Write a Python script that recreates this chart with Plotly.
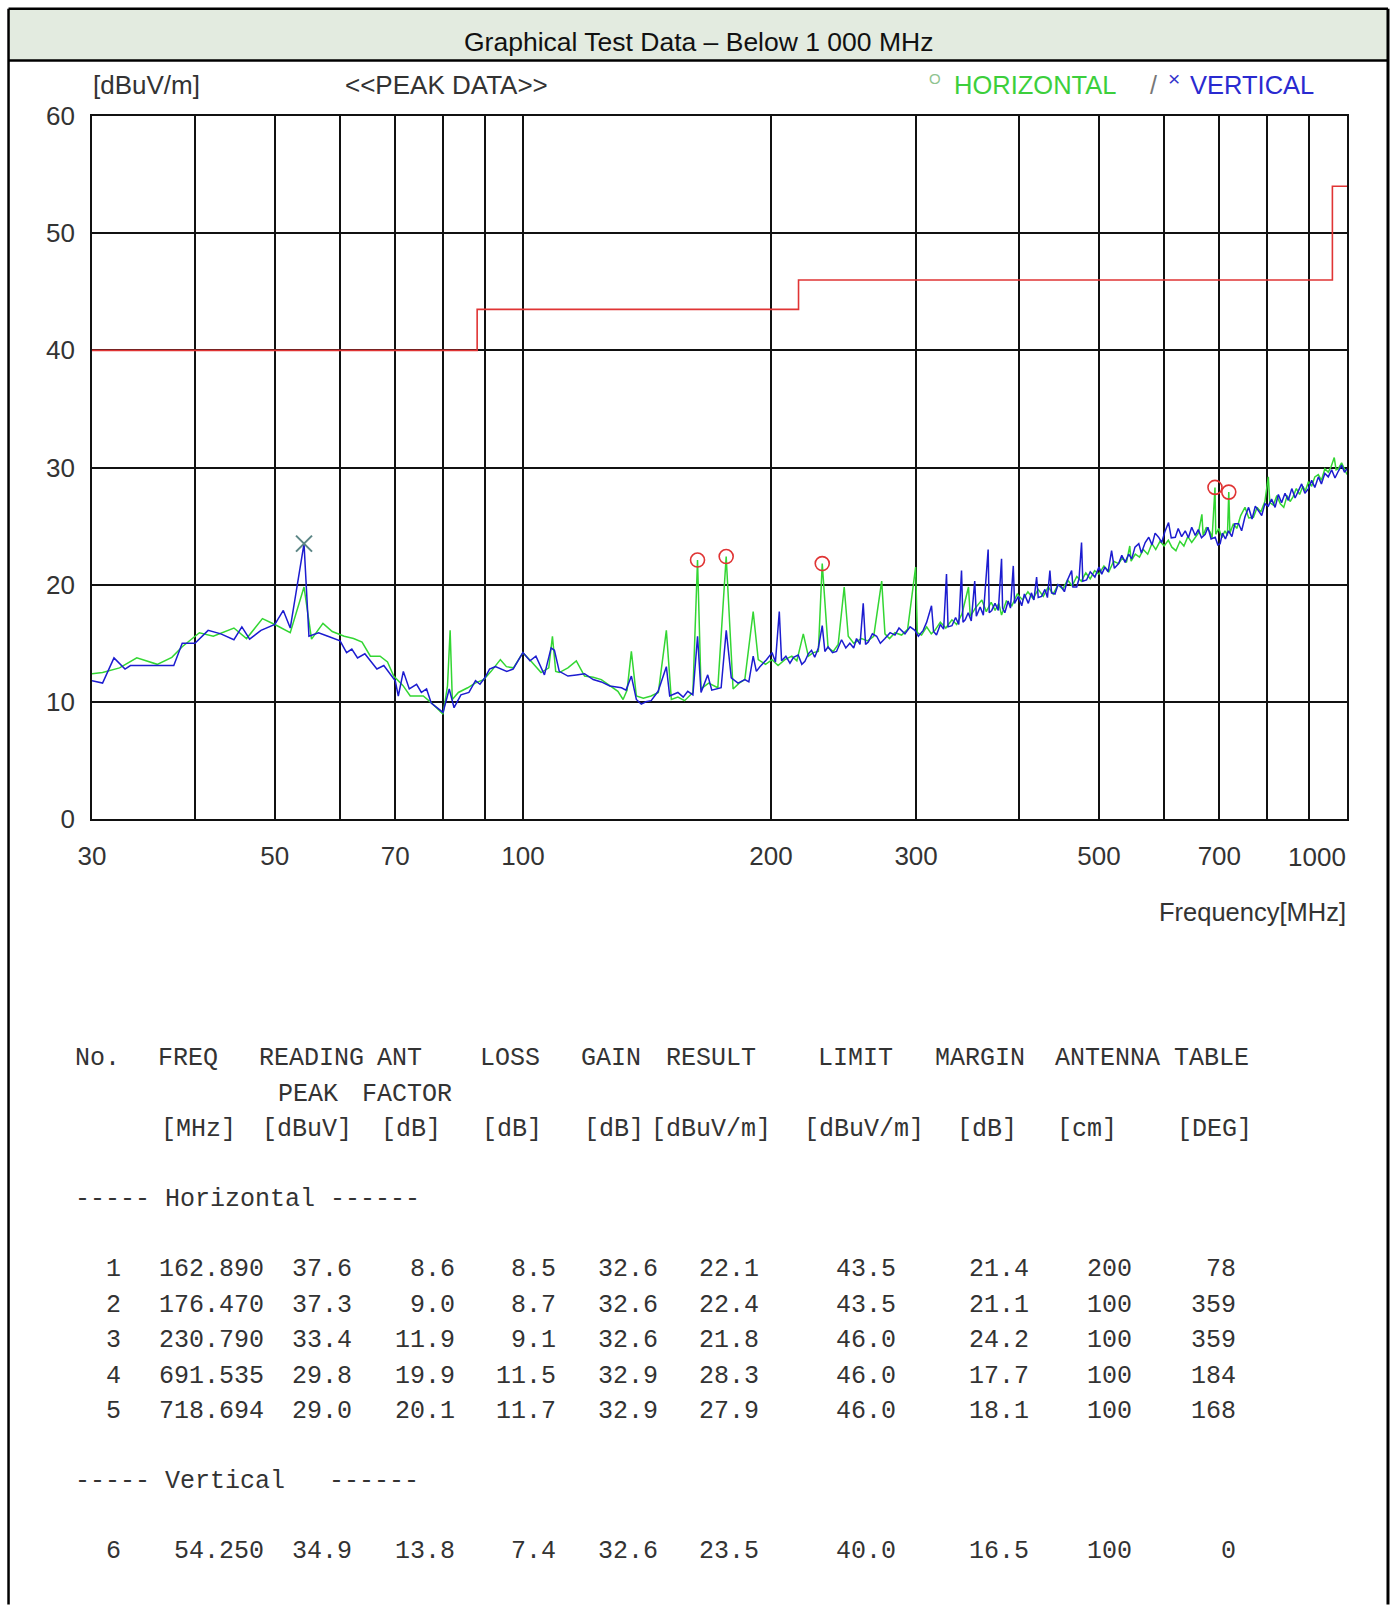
import math
import plotly.graph_objects as go

# ---------------- data ----------------
# Vertical polarisation (blue) trace
v_freq = [30.0, 30.9, 31.9, 32.9, 33.4, 35.5, 37.7, 38.6, 40.0, 41.5, 43.0, 44.6, 45.6, 46.6, 48.1,
          50.0, 51.2, 52.2, 54.25, 55.0, 56.5, 58.0, 60.0, 61.1, 62.0, 63.0, 64.3, 66.5, 67.8, 70.0,
          70.6, 71.6, 72.8, 74.3, 75.3, 76.4, 77.4, 80.0, 81.4, 82.5, 84.1, 86.0, 87.6, 88.7, 90.0,
          91.1, 92.6, 95.6, 97.3, 100.0, 102.0, 103.7, 106.2, 108.2, 109.2, 110.7, 113.4, 116.1, 118.8,
          121.7, 124.5, 127.5, 131.7, 133.4, 135.4, 137.3, 139.2, 141.0, 143.1, 145.9, 149.3, 150.7,
          154.2, 156.5, 158.5, 160.8, 162.9, 164.5, 167.6, 169.5, 171.5, 174.0, 176.5, 179.0, 182.4,
          185.9, 188.0, 190.3, 192.0, 193.9, 197.5, 200.6, 202.5, 204.7, 206.0, 208.5, 210.9, 213.0,
          215.8, 218.0, 219.9, 222.0, 224.0, 226.0, 228.3, 230.8, 232.5, 234.6, 237.5, 240.2, 243.6,
          246.5, 249.3, 252.0, 254.0, 256.5, 258.8, 260.5, 262.5, 265.5, 268.7, 271.5, 275.0, 279.0,
          282.8, 286, 290.8, 295, 299.0, 301.9, 306.0, 309, 313.2, 315, 317.6, 321, 324, 326.6, 328,
          331.6, 335, 338, 340.6, 342, 344.1, 347, 350, 353.4, 355, 358.8, 362, 366.9, 368, 370.6, 374,
          377.5, 380.9, 382, 384.4, 388, 390.5, 393.6, 395, 399.2, 403, 406, 410.5, 414, 417, 420.1,
          422, 426.0, 430, 433, 436.0, 438, 442.2, 446, 450.5, 454, 458, 463.3, 465, 469.9, 473, 476.3,
          478, 483.0, 488, 494.4, 500, 504, 508.4, 513, 518.0, 522, 528.3, 533, 538, 543.3, 548, 553,
          558.9, 563, 569, 574.7, 580, 585, 590.7, 596, 601, 607.4, 612, 618.9, 624, 630, 636.4, 642,
          648, 654.4, 660, 666, 672.9, 678, 684, 691.9, 697, 701.6, 706, 712, 718.2, 725, 731, 738.7,
          745, 752, 759.6, 767, 774, 781.1, 788, 795, 802.6, 810, 818, 825.5, 833, 841, 848.8, 857, 865,
          873.0, 881, 889, 897.9, 906, 914, 923.1, 931, 940, 949.0, 958, 967, 976.3, 985, 993, 1000]
v_level = [11.8, 11.6, 13.75, 12.8, 13.1, 13.1, 13.1, 15.0, 15.0, 16.1, 15.8, 15.3, 16.4, 15.35, 16.1,
           16.6, 17.8, 16.3, 23.5, 15.6, 15.9, 15.6, 15.2, 14.2, 14.5, 13.75, 14.1, 12.8, 13.1, 11.8,
           10.5, 12.6, 11.1, 11.5, 10.8, 11.1, 9.9, 9.1, 11.1, 9.5, 10.6, 10.8, 11.8, 11.5, 12.1,
           12.8, 13.0, 12.6, 12.8, 14.2, 13.5, 13.9, 12.3, 14.6, 14.4, 12.6, 12.2, 12.3, 12.4,
           11.9, 11.7, 11.35, 11.2, 11.0, 12.2, 10.2, 9.8, 10.0, 10.1, 10.9, 13.0, 10.5,
           10.8, 10.4, 10.9, 10.6, 15.6, 10.8, 12.3, 11.0, 11.1, 11.2, 16.1, 12.05, 11.6,
           11.9, 11.7, 13.9, 12.6, 13.0, 13.6, 14.2, 13.4, 17.7, 13.5, 13.9, 13.3, 13.8,
           14.0, 13.2, 13.45, 14.1, 14.4, 13.8, 14.6, 16.5, 14.3, 14.7, 14.2, 14.3, 15.3,
           14.6, 15.0, 14.6, 15.4, 14.9, 18.4, 14.9, 15.1, 15.8, 15.6, 15.0, 15.4, 15.9,
           15.7, 16.3, 15.8, 16.4, 16.1, 15.6, 16.1, 16.8, 18.2, 16.0, 15.7, 16.6, 16.2, 20.9, 16.4,
           16.5, 17.2, 16.6, 21.2, 16.8, 17.0, 17.6, 16.9, 20.3, 17.3, 18.1, 17.4, 23.0, 17.6, 17.8, 18.4,
           17.8, 22.2, 18.0, 17.6, 18.6, 18.0, 21.6, 18.4, 19.0, 18.2, 19.2, 18.4, 19.3, 18.7, 20.65,
           18.9, 19.0, 19.6, 18.9, 21.2, 19.3, 19.2, 20.0, 19.8, 19.4, 20.4, 21.2, 19.8, 19.8, 20.5, 23.6,
           20.3, 20.4, 21.1, 20.65, 21.5, 20.9, 21.5, 21.1, 22.9, 21.4, 21.8, 22.5, 21.9, 22.6, 22.2, 23.2,
           23.5, 22.7, 23.6, 24.05, 23.4, 24.4, 24.05, 23.6, 24.5, 25.3, 24.0, 24.05, 24.8, 24.1, 24.6, 24.0,
           24.9, 24.2, 24.7, 24.0, 24.3, 24.9, 23.9, 24.05, 23.4, 23.5, 24.4, 23.9, 24.6, 24.1, 25.2, 25.2,
           24.6, 25.8, 26.6, 25.6, 26.7, 26.3, 25.9, 26.9, 26.7, 27.3, 26.6, 27.7, 27.0, 27.8, 27.2, 28.2, 27.4,
           28.0, 28.6, 27.8, 28.2, 28.9, 28.3, 29.2, 28.6, 29.5, 29.2, 29.8, 29.1, 29.7, 30.2, 29.6, 29.9]

# Horizontal polarisation (green) trace
h_freq = [30.0, 30.9, 32.4, 34.0, 36.0, 37.5, 38.6, 40.5, 42.1, 44.6, 46.2, 48.3, 50.0, 52.2, 54.25,
          55.4, 57.2, 58.7, 60.7, 62.3, 63.8, 65.3, 67.1, 68.5, 69.7, 71.5, 73.0, 75.7, 77.2, 78.7,
          80.0, 81.0, 81.6, 82.1, 83.5, 85.7, 87.5, 89.6, 91.5, 93.9, 95.5, 97.4, 100.0, 102.5, 105.2,
          107.5, 108.6, 109.6, 110.7, 113.4, 116.1, 118.8, 121.7, 124.5, 127.5, 130.4, 132.3, 133.8,
          135.4, 137.3, 140.0, 143.1, 146.0, 149.3, 151.4, 154.2, 157.1, 160.8, 162.89, 164.5, 168.0,
          172.4, 176.47, 179.9, 183.0, 185.9, 190.3, 193.0, 197.0, 200.6, 204.0, 207.9, 212.0, 215.0,
          218.9, 222.0, 225.0, 228.3, 230.79, 234.6, 238.0, 241.3, 245.4, 248.2, 252.0, 257.6, 262.0,
          266.5, 272.5, 275.0, 278.5,
          282.8, 288.1, 293, 299.6, 301, 304.6, 309, 313, 316.2, 321, 326, 331.6, 336, 341, 347.3, 349,
          354, 360.5, 365, 370, 374.1, 378, 380.9, 386, 392, 398, 404, 410, 416, 422, 428, 434, 440, 446,
          452, 458, 464, 470, 476, 482, 488, 494, 500, 507, 514, 521, 528.3, 534, 540, 545, 547, 553.5,
          560, 566, 573, 579.7, 586, 593, 600, 607, 613, 620, 627, 634, 641, 648, 654, 660, 666.7, 669,
          675, 682, 686, 691.535, 693, 699, 705, 711, 716, 718.694, 721, 728, 735, 743, 752, 760, 770,
          778, 786, 795, 802.6, 806, 814, 822, 830, 838, 846, 853, 860, 868, 876, 884, 890, 898, 906,
          914, 923, 931, 940, 949, 957, 965, 970, 976, 985, 993, 1000]
h_level = [12.4, 12.5, 12.9, 13.75, 13.2, 13.8, 14.7, 15.9, 15.6, 16.3, 15.4, 17.1, 16.6, 15.9, 19.8,
           15.35, 16.7, 16.0, 15.6, 15.4, 15.1, 13.9, 13.9, 13.4, 12.2, 11.4, 10.5, 10.5, 10.0, 9.4,
           8.95, 11.35, 16.1, 10.2, 10.8, 11.2, 11.6, 11.9, 12.6, 13.6, 13.0, 12.9, 14.2, 13.4, 12.5,
           12.9, 15.6, 12.6, 12.5, 12.9, 13.5, 12.2, 12.1, 11.9, 11.4, 10.9, 10.2, 11.0,
           14.3, 10.5, 10.3, 10.5, 10.8, 16.1, 10.2, 10.4, 10.1, 10.8, 22.1, 11.1, 11.6,
           11.2, 22.4, 11.1, 11.6, 11.9, 17.7, 13.6, 13.2, 13.6, 13.1, 13.6, 13.9, 13.5,
           15.8, 13.9, 14.2, 14.3, 21.8, 14.6, 14.3, 14.9, 19.8, 15.6, 15.0, 15.4, 15.2,
           15.6, 20.3, 15.8, 15.4,
           15.9, 15.7, 16.2, 21.5, 15.9, 15.7, 16.4, 15.8, 16.1, 16.8, 16.3, 17.0, 16.6, 17.5, 19.8, 17.3,
           18.0, 18.7, 17.7, 18.5, 17.8, 18.4, 17.4, 18.6, 18.2, 19.2, 18.7, 19.4, 18.8, 19.6, 19.0, 19.8, 19.2, 20.0,
           19.6, 20.4, 19.9, 20.7, 20.3, 21.0, 20.5, 21.2, 20.9, 21.6, 21.1, 22.0, 21.8, 22.3, 21.9, 23.3, 22.0, 22.6,
           22.35, 23.0, 22.6, 23.5, 23.0, 23.7, 23.3, 23.8, 23.2, 22.9, 23.7, 23.3, 24.1, 23.6, 24.05, 24.4, 26.0, 24.2,
           24.9, 24.5, 24.0, 28.3, 24.3, 24.8, 24.0, 24.6, 24.2, 27.9, 24.4, 25.2, 24.8, 25.9, 26.6, 25.7, 25.75,
           26.6, 26.2, 27.1, 29.2, 27.0, 26.8, 27.6, 26.9, 26.6, 27.6, 27.1, 27.5, 28.2, 27.7, 28.4, 28.0, 28.8, 28.4,
           29.2, 29.4, 28.9, 29.9, 29.6, 30.1, 30.85, 29.8, 29.9, 30.4, 29.8, 29.4]

# Limit line (step)
limit_freq = [30, 88, 216, 960, 1000]
limit_level = [40.0, 43.5, 46.0, 54.0, 54.0]

# Table of final measurements
t_no = [1, 2, 3, 4, 5, 6]
t_freq = [162.890, 176.470, 230.790, 691.535, 718.694, 54.250]
t_reading = [37.6, 37.3, 33.4, 29.8, 29.0, 34.9]
t_ant = [8.6, 9.0, 11.9, 19.9, 20.1, 13.8]
t_loss = [8.5, 8.7, 9.1, 11.5, 11.7, 7.4]
t_gain = [32.6, 32.6, 32.6, 32.9, 32.9, 32.6]
t_result = [22.1, 22.4, 21.8, 28.3, 27.9, 23.5]
t_limit = [43.5, 43.5, 46.0, 46.0, 46.0, 40.0]
t_margin = [21.4, 21.1, 24.2, 17.7, 18.1, 16.5]
t_antenna = [200, 100, 100, 100, 100, 100]
t_table = [78, 359, 359, 184, 168, 0]
t_pol = ["H", "H", "H", "H", "H", "V"]

grid_freqs = [30, 40, 50, 60, 70, 80, 90, 100, 200, 300, 400, 500, 600, 700, 800, 900, 1000]
labelled = {30: "30", 50: "50", 70: "70", 100: "100", 200: "200", 300: "300", 500: "500", 700: "700"}
y_ticks = [0, 10, 20, 30, 40, 50, 60]

# ---------------- styling / layout helpers ----------------
W, H = 1394, 1606
PL, PR, PT, PB = 91.5, 1347.0, 115.5, 819.5
AX = "Liberation Sans, Arial, sans-serif"
MONO = "Liberation Mono, Courier New, DejaVu Sans Mono, monospace"
SANS = "Liberation Sans, Arial, sans-serif"
GREEN = "#33d633"
BLUE = "#1c1cd0"
RED = "#e03434"


def px(x):
    return (x - PL) / (PR - PL)


def py(y):
    return (PB - y) / (PB - PT)


fig = go.Figure()

fig.add_trace(go.Scatter(x=limit_freq, y=limit_level, mode="lines", line_shape="hv",
                         line=dict(color=RED, width=1.6), hoverinfo="skip"))
fig.add_trace(go.Scatter(x=h_freq, y=h_level, mode="lines", line=dict(color=GREEN, width=1.5),
                         name="HORIZONTAL"))
fig.add_trace(go.Scatter(x=v_freq, y=v_level, mode="lines", line=dict(color=BLUE, width=1.5),
                         name="VERTICAL"))

hx = [f for f, p in zip(t_freq, t_pol) if p == "H"]
hy = [r for r, p in zip(t_result, t_pol) if p == "H"]
vx = [f for f, p in zip(t_freq, t_pol) if p == "V"]
vy = [r for r, p in zip(t_result, t_pol) if p == "V"]
fig.add_trace(go.Scatter(x=hx, y=hy, mode="markers",
                         marker=dict(symbol="circle-open", size=14, color=RED, line=dict(width=1.6))))
fig.add_trace(go.Scatter(x=vx, y=vy, mode="markers",
                         marker=dict(symbol="x-thin-open", size=16, color="#5b8585", line=dict(width=2))))

fig.update_xaxes(type="log", range=[math.log10(30), math.log10(1000)],
                 tickmode="array", tickvals=grid_freqs,
                 ticktext=[labelled.get(f, "") for f in grid_freqs],
                 showgrid=True, gridcolor="#111111", gridwidth=1.5,
                 showline=True, linecolor="#111111", linewidth=1.8, mirror=True,
                 ticks="", ticklabelstandoff=13,
                 tickfont=dict(family=AX, size=26, color="#333333"), zeroline=False)
fig.update_yaxes(range=[0, 60], tickmode="array", tickvals=y_ticks,
                 showgrid=True, gridcolor="#111111", gridwidth=1.5,
                 showline=True, linecolor="#111111", linewidth=1.8, mirror=True,
                 ticks="", ticklabelstandoff=10,
                 tickfont=dict(family=AX, size=26, color="#333333"), zeroline=False)

shapes = [
    dict(type="rect", xref="paper", yref="paper", x0=px(8), x1=px(1388), y0=py(60), y1=py(8),
         fillcolor="#e3ebe0", line=dict(width=0), layer="below"),
    dict(type="line", xref="paper", yref="paper", x0=px(8), x1=px(1388), y0=py(8), y1=py(8),
         line=dict(color="#000", width=2.5)),
    dict(type="line", xref="paper", yref="paper", x0=px(8), x1=px(1388), y0=py(60), y1=py(60),
         line=dict(color="#000", width=2.5)),
    dict(type="line", xref="paper", yref="paper", x0=px(8), x1=px(8), y0=py(8), y1=py(1606),
         line=dict(color="#000", width=2.5)),
    dict(type="line", xref="paper", yref="paper", x0=px(1388), x1=px(1388), y0=py(8), y1=py(1606),
         line=dict(color="#000", width=3)),
]

ann = []


def text(x, y, s, size, family, color="#333333", xanchor="left", yanchor="middle"):
    ann.append(dict(xref="paper", yref="paper", x=px(x), y=py(y), text=s, showarrow=False,
                    xanchor=xanchor, yanchor=yanchor, font=dict(family=family, size=size, color=color)))


# header
text(698, 41, "Graphical Test Data – Below 1 000 MHz", 26.5, SANS, "#111111", xanchor="center")
# top labels
text(90, 84, "[dBuV/m]", 26, AX)
text(446, 84, "&lt;&lt;PEAK DATA&gt;&gt;", 26, AX, xanchor="center")
text(927, 78, "O", 15, AX, "#8fc48f")
text(952, 84, "HORIZONTAL", 25.5, AX, "#3ccf3c")
text(1148, 84, "/", 25, AX, "#777777")
text(1166, 78, "×", 21, SANS, "#3333cc")
text(1188, 84, "VERTICAL", 25.5, AX, "#2a2ad0")
# x tick label for 1000 (shifted inside) and axis title
text(PR + 1, 858, "1000", 26, AX, xanchor="right")
text(PR + 1, 913, "Frequency[MHz]", 25.5, AX, xanchor="right")

# table
TS = 25
head1 = [("No.", 72), ("FREQ", 156), ("READING", 257), ("ANT", 375), ("LOSS", 478), ("GAIN", 579),
         ("RESULT", 664), ("LIMIT", 816), ("MARGIN", 933), ("ANTENNA", 1053), ("TABLE", 1172)]
head2 = [("PEAK", 276), ("FACTOR", 360)]
head3 = [("[MHz]", 159), ("[dBuV]", 260), ("[dB]", 379), ("[dB]", 480), ("[dB]", 582),
         ("[dBuV/m]", 649), ("[dBuV/m]", 802), ("[dB]", 955), ("[cm]", 1055), ("[DEG]", 1175)]
for s, x in head1:
    text(x, 1059, s, TS, MONO)
for s, x in head2:
    text(x, 1095, s, TS, MONO)
for s, x in head3:
    text(x, 1130, s, TS, MONO)
text(72, 1201, "----- Horizontal ------", TS, MONO)
text(72, 1483, "----- Vertical", TS, MONO)
text(72 + 17 * 15, 1483, "------", TS, MONO)

col_right = [123, 266, 354, 457, 558, 660, 761, 898, 1031, 1134, 1238]
row_y = [1271, 1307, 1342, 1378, 1413, 1553]
for i in range(len(t_no)):
    cells = [str(t_no[i]), f"{t_freq[i]:.3f}", f"{t_reading[i]:.1f}", f"{t_ant[i]:.1f}",
             f"{t_loss[i]:.1f}", f"{t_gain[i]:.1f}", f"{t_result[i]:.1f}", f"{t_limit[i]:.1f}",
             f"{t_margin[i]:.1f}", str(t_antenna[i]), str(t_table[i])]
    for c, xr in zip(cells, col_right):
        text(xr, row_y[i], c, TS, MONO, xanchor="right")

fig.update_layout(width=W, height=H, autosize=False,
                  margin=dict(l=PL, r=W - PR, t=PT, b=H - PB, pad=0),
                  paper_bgcolor="white", plot_bgcolor="white", showlegend=False,
                  shapes=shapes, annotations=ann)

fig.write_html("out.html", config={"displayModeBar": False},
               post_script="document.body.style.margin='0';document.body.style.overflow='hidden';")
